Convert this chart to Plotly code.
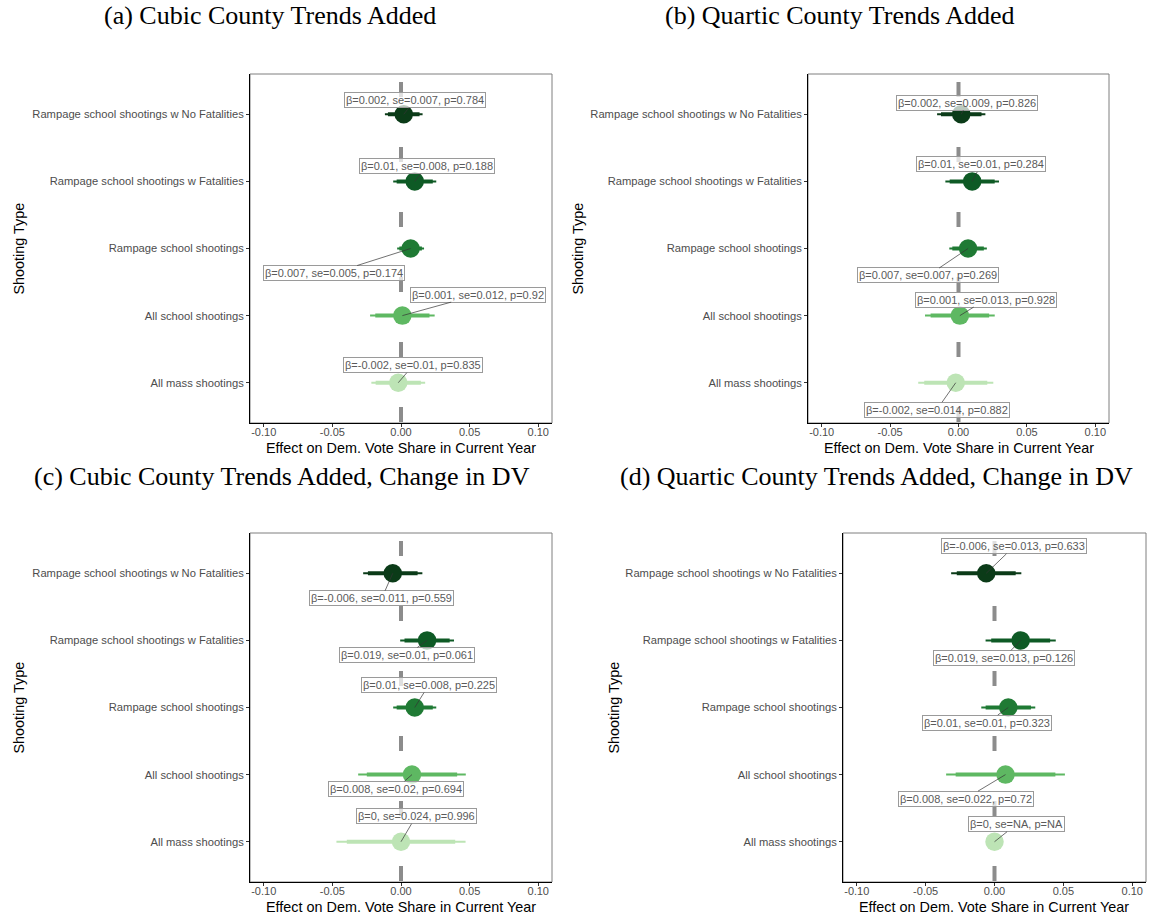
import plotly.graph_objects as go

W, H = 1151, 917

# ---------------- data (bottom -> top order) ----------------
categories = [
    "All mass shootings",
    "All school shootings",
    "Rampage school shootings",
    "Rampage school shootings w Fatalities",
    "Rampage school shootings w No Fatalities",
]
x_tick_vals = [-0.10, -0.05, 0.00, 0.05, 0.10]
x_tick_text = ["-0.10", "-0.05", "0.00", "0.05", "0.10"]

a_beta = [-0.002, 0.001, 0.007, 0.01, 0.002]
a_se = [0.01, 0.012, 0.005, 0.008, 0.007]
a_p = [0.835, 0.92, 0.174, 0.188, 0.784]

b_beta = [-0.002, 0.001, 0.007, 0.01, 0.002]
b_se = [0.014, 0.013, 0.007, 0.01, 0.009]
b_p = [0.882, 0.928, 0.269, 0.284, 0.826]

c_beta = [0, 0.008, 0.01, 0.019, -0.006]
c_se = [0.024, 0.02, 0.008, 0.01, 0.011]
c_p = [0.996, 0.694, 0.225, 0.061, 0.559]

d_beta = [0, 0.008, 0.01, 0.019, -0.006]
d_se = [None, 0.022, 0.01, 0.013, 0.013]
d_p = [None, 0.72, 0.323, 0.126, 0.633]

titles = [
    "(a) Cubic County Trends Added",
    "(b) Quartic County Trends Added",
    "(c) Cubic County Trends Added, Change in DV",
    "(d) Quartic County Trends Added, Change in DV",
]
x_title = "Effect on Dem. Vote Share in Current Year"
y_title = "Shooting Type"

# ---------------- styling / layout ----------------
colors = ["#BDE4B5", "#5EB862", "#1F7A34", "#0E5A25", "#0B3B18"]

# label offsets in pixels (dx, dy) relative to point, bottom -> top
a_off = [(15, -17.5), (76, -21), (-77, 24.5), (12, -15), (11.5, -14.5)]
b_off = [(-19, 27), (26, -16), (-40, 27), (9, -17), (6, -11.5)]
c_off = [(15, -25.5), (-16, 14), (14, -22.5), (-20, 14.5), (-11, 25)]
d_off = [(22, -17.5), (-40, 24), (-21, 15), (-17, 17.5), (28, -27)]

panels = [
    dict(beta=a_beta, se=a_se, p=a_p, off=a_off, box=(250, 552, 74, 423), tx=270, ty=16, ytx=18, xty=448),
    dict(beta=b_beta, se=b_se, p=b_p, off=b_off, box=(808, 1109, 74, 423), tx=840, ty=16, ytx=577, xty=448),
    dict(beta=c_beta, se=c_se, p=c_p, off=c_off, box=(250, 552, 533, 882), tx=282, ty=476, ytx=18, xty=907),
    dict(beta=d_beta, se=d_se, p=d_p, off=d_off, box=(843, 1146, 533, 882), tx=876, ty=476, ytx=613, xty=907),
]

SANS = "Liberation Sans, Arial, sans-serif"
SERIF = "Liberation Serif, Times New Roman, serif"


def fmt(v):
    return "NA" if v is None else f"{v:g}"


fig = go.Figure()
annotations = []
shapes = []
layout_axes = {}

for i, pn in enumerate(panels, start=1):
    xs = "x" if i == 1 else f"x{i}"
    ys = "y" if i == 1 else f"y{i}"
    x0, x1, y0, y1 = pn["box"]
    ycats = list(range(1, len(categories) + 1))

    # dashed zero line (starts 8px below the panel top)
    shapes.append(dict(type="line", xref=xs, yref=f"{ys} domain", x0=0, x1=0,
                       y0=1 - 8 / (y1 - y0), y1=0,
                       line=dict(color="#8c8c8c", width=4, dash="15px,50px"), layer="below"))
    # gray panel frame
    shapes.append(dict(type="rect", xref=f"{xs} domain", yref=f"{ys} domain", x0=0, x1=1, y0=0, y1=1,
                       line=dict(color="#7f7f7f", width=1), layer="below"))

    for k, cat in enumerate(categories):
        b = pn["beta"][k]
        s = pn["se"][k]
        yv = ycats[k]
        col = colors[k]
        if s is not None:
            fig.add_trace(go.Scatter(x=[b - 1.96 * s, b + 1.96 * s], y=[yv, yv], mode="lines",
                                     line=dict(color=col, width=2), xaxis=xs, yaxis=ys,
                                     showlegend=False, hoverinfo="skip"))
            fig.add_trace(go.Scatter(x=[b - 1.645 * s, b + 1.645 * s], y=[yv, yv], mode="lines",
                                     line=dict(color=col, width=4), xaxis=xs, yaxis=ys,
                                     showlegend=False, hoverinfo="skip"))
        fig.add_trace(go.Scatter(x=[b], y=[yv], mode="markers",
                                 marker=dict(color=col, size=18.5, line=dict(width=0)),
                                 xaxis=xs, yaxis=ys, showlegend=False, name=cat))
        dx, dy = pn["off"][k]
        annotations.append(dict(
            x=b, y=yv, xref=xs, yref=ys, ax=dx, ay=dy,
            text=f"β={fmt(b)}, se={fmt(s)}, p={fmt(pn['p'][k])}",
            showarrow=True, arrowhead=0, arrowwidth=0.7, arrowcolor="#333333", standoff=0,
            bgcolor="rgba(255,255,255,0.72)", bordercolor="#9a9a9a", borderwidth=1, borderpad=1,
            font=dict(family=SANS, size=11, color="#5a5a5a")))

    axis_common = dict(showgrid=False, zeroline=False, showline=True, linecolor="black", linewidth=1,
                       ticks="outside", ticklen=3, tickcolor="#333333", tickwidth=1, fixedrange=True)
    layout_axes["xaxis" if i == 1 else f"xaxis{i}"] = dict(
        domain=[x0 / W, x1 / W], anchor=ys, range=[-0.11, 0.11],
        tickvals=x_tick_vals, ticktext=x_tick_text, ticklabelstandoff=-4,
        tickfont=dict(family=SANS, size=11, color="#4D4D4D"), **axis_common)
    layout_axes["yaxis" if i == 1 else f"yaxis{i}"] = dict(
        domain=[1 - y1 / H, 1 - y0 / H], anchor=xs, range=[0.4, 5.6],
        tickvals=ycats, ticktext=categories,
        tickfont=dict(family=SANS, size=11.2, color="#4D4D4D"), **axis_common)

    # panel title
    annotations.append(dict(x=pn["tx"] / W, y=1 - pn["ty"] / H, xref="paper", yref="paper",
                            text=titles[i - 1], showarrow=False, xanchor="center", yanchor="middle",
                            font=dict(family=SERIF, size=26, color="black")))
    # x axis title
    annotations.append(dict(x=(x0 + x1) / 2 / W, y=1 - pn["xty"] / H, xref="paper", yref="paper",
                            text=x_title, showarrow=False, xanchor="center", yanchor="middle",
                            font=dict(family=SANS, size=14.4, color="black")))
    # y axis title
    annotations.append(dict(x=pn["ytx"] / W, y=1 - (y0 + y1) / 2 / H, xref="paper", yref="paper",
                            text=y_title, showarrow=False, xanchor="center", yanchor="middle",
                            textangle=-90, font=dict(family=SANS, size=14.4, color="black")))

fig.update_layout(
    width=W, height=H, margin=dict(l=0, r=0, t=0, b=0),
    paper_bgcolor="white", plot_bgcolor="white",
    annotations=annotations, shapes=shapes, showlegend=False,
    **layout_axes)

fig.write_html("out.html")
